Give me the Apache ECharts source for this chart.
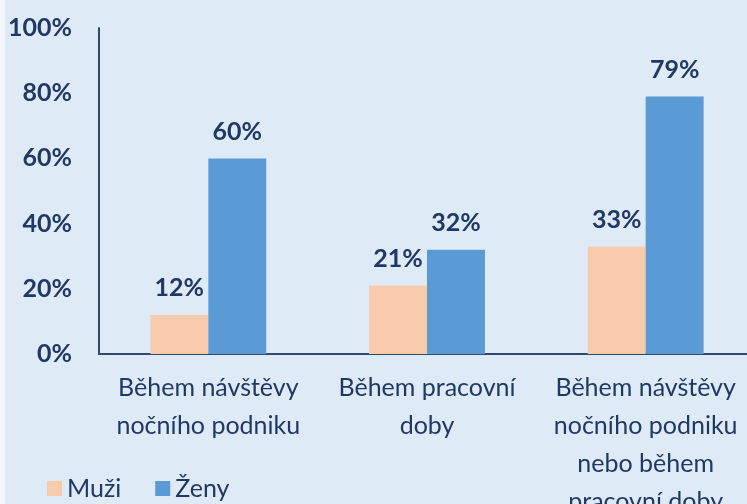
<!DOCTYPE html>
<html><head><meta charset="utf-8">
<script src="https://cdn.jsdelivr.net/npm/echarts@6/dist/echarts.min.js"></script>
<style>
html,body{margin:0;padding:0;background:#f3f7fc;}
#c{position:absolute;left:5px;top:0;width:742px;height:504px;background:#deeaf6;}
</style></head><body>
<div id="c"></div>
<script>
const categories = ['Během návštěvy\nnočního podniku', 'Během pracovní\ndoby', 'Během návštěvy\nnočního podniku\nnebo během\npracovní doby'];
const seriesNames = ['Muži', 'Ženy'];
const muzi = [12, 21, 33];
const zeny = [60, 32, 79];
const yTicks = [0, 20, 40, 60, 80, 100];

const txt = '#203864';
const font = 'Lato, "Open Sans", sans-serif';
const fs = 25;
const chart = echarts.init(document.getElementById('c'));
chart.setOption({
  animation: false,
  textStyle: {fontFamily: font},
  grid: {left: 94, right: -8, top: 28, bottom: 150, containLabel: false, outerBoundsMode: 'none'},
  legend: {
    left: 42, top: 476, padding: 0, itemWidth: 15, itemHeight: 15, itemGap: 34,
    icon: 'rect',
    textStyle: {color: txt, fontSize: fs, fontFamily: font},
    data: seriesNames
  },
  xAxis: {
    type: 'category', data: categories,
    axisLine: {lineStyle: {color: '#2f4a6d', width: 2}},
    axisTick: {show: false},
    axisLabel: {color: txt, fontSize: fs, lineHeight: 38, margin: 15, interval: 0, fontFamily: font}
  },
  yAxis: {
    type: 'value', min: 0, max: 100, interval: 20,
    axisLine: {show: true, lineStyle: {color: '#2f4a6d', width: 2}},
    axisTick: {show: false},
    splitLine: {show: false},
    axisLabel: {color: txt, fontSize: fs, fontWeight: 'bold', margin: 27, fontFamily: font,
      formatter: v => yTicks.includes(v) ? v + '%' : ''}
  },
  series: [
    {name: seriesNames[0], type: 'bar', data: muzi, barGap: '0%', barCategoryGap: '47%',
     itemStyle: {color: '#f8cbad'},
     label: {show: true, position: 'top', distance: 14, formatter: '{c}%', color: txt, fontSize: fs, fontWeight: 'bold', fontFamily: font}},
    {name: seriesNames[1], type: 'bar', data: zeny, barGap: '0%', barCategoryGap: '47%',
     itemStyle: {color: '#5b9bd5'},
     label: {show: true, position: 'top', distance: 14, formatter: '{c}%', color: txt, fontSize: fs, fontWeight: 'bold', fontFamily: font}}
  ]
});
</script></body></html>
